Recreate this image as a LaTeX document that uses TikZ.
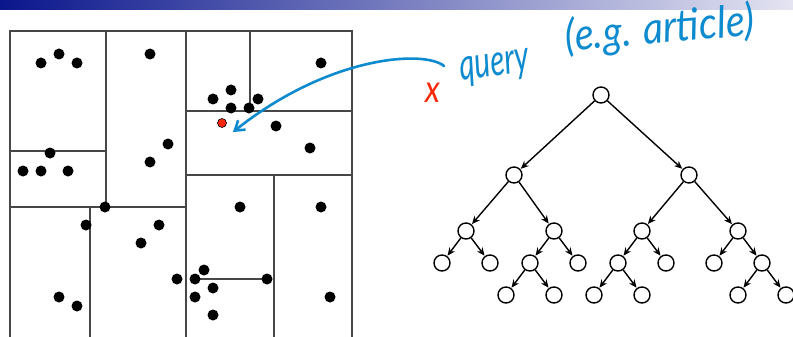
\documentclass[tikz,border=0pt]{standalone}
\usepackage{fontspec}
\newfontfamily\hand{Lato}
\usetikzlibrary{arrows.meta}
\definecolor{barL}{RGB}{10,22,140}
\definecolor{barR}{RGB}{228,228,242}
\definecolor{penblue}{RGB}{14,138,206}
\definecolor{penred}{RGB}{250,40,10}
\tikzset{
  grid/.style={draw=black!72,line width=1.1pt},
  dot/.style={circle,fill=black,inner sep=0pt,minimum size=11pt},
  qdot/.style={circle,fill=penred,draw=black,line width=0.6pt,inner sep=0pt,minimum size=9pt},
  tn/.style={circle,draw=black,line width=1.4pt,inner sep=0pt,minimum size=16pt},
  te/.style={-{Stealth[length=8pt,width=7pt]},line width=1.4pt,shorten >=0.5pt},
  hw/.style={text=penblue,font=\hand\itshape\fontsize{34}{36}\selectfont,inner sep=0pt},
}
\begin{document}
\begin{tikzpicture}[x=1pt,y=-1pt]
\useasboundingbox (0,0) rectangle (793,337);
\shade[left color=barL,right color=barR] (0,0) rectangle (793,10);
% kd-tree partition
\draw[grid] (10,338) -- (10,31) -- (352,31) -- (352,338);
\draw[grid] (106,31) -- (106,207);
\draw[grid] (186,31) -- (186,338);
\draw[grid] (10,151) -- (106,151);
\draw[grid] (10,207) -- (186,207);
\draw[grid] (90,207) -- (90,338);
\draw[grid] (250,31) -- (250,111);
\draw[grid] (186,111) -- (352,111);
\draw[grid] (186,175) -- (352,175);
\draw[grid] (274,175) -- (274,338);
\draw[grid] (190,279) -- (268,279);
% points
\foreach \x/\y [count=\i] in {41/63,59/54,77/63,150/54,321/63,231/90,213/99,258/99,231/108,249/108,
  276/126,310/148,168/144,150/162,50/153,23/171,41/171,68/171,105/207,86/225,159/225,141/243,
  240/207,321/207,177/279,195/279,204/270,213/288,195/297,213/315,267/279,330/297,59/297,77/306}
  \node[dot] (p\i) at (\x,\y) {};
\node[qdot] (q) at (222,123) {};
% query annotation
\node[hw,rotate=8,xscale=0.88,yscale=1.3] (qt) at (495,68) {query};
\node[hw,rotate=5,xscale=1.16,yscale=1.3] (ex) at (660,30) {(e.g. article)};
\node[text=penred,font=\hand\itshape\fontsize{32}{34}\selectfont,inner sep=0pt,yscale=1.2] (x) at (433,93) {x};
\coordinate (a0) at (444,66);
\coordinate (a1) at (233,132);
\draw[penblue,line width=2.6pt,line cap=round,-{Straight Barb[length=9pt,width=12pt]}]
  (a0) .. controls (425,50) and (330,55) .. (a1);
% tree
\node[tn] (r) at (601,95) {};
\node[tn] (a) at (514,175) {};
\node[tn] (b) at (689,175) {};
\node[tn] (aa) at (466,231) {};
\node[tn] (ab) at (554,231) {};
\node[tn] (ba) at (642,231) {};
\node[tn] (bb) at (738,231) {};
\node[tn] (aaa) at (442,263) {};
\node[tn] (aab) at (490,263) {};
\node[tn] (aba) at (530,263) {};
\node[tn] (abb) at (578,263) {};
\node[tn] (baa) at (618,263) {};
\node[tn] (bab) at (666,263) {};
\node[tn] (bba) at (714,263) {};
\node[tn] (bbb) at (762,263) {};
\node[tn] (abaa) at (506,295) {};
\node[tn] (abab) at (554,295) {};
\node[tn] (baaa) at (594,295) {};
\node[tn] (baab) at (642,295) {};
\node[tn] (bbba) at (738,295) {};
\node[tn] (bbbb) at (786,295) {};
\foreach \p/\c in {r/a,r/b,a/aa,a/ab,b/ba,b/bb,aa/aaa,aa/aab,ab/aba,ab/abb,ba/baa,ba/bab,bb/bba,bb/bbb,
  aba/abaa,aba/abab,baa/baaa,baa/baab,bbb/bbba,bbb/bbbb}
  \draw[te] (\p) -- (\c);
\end{tikzpicture}
\end{document}
